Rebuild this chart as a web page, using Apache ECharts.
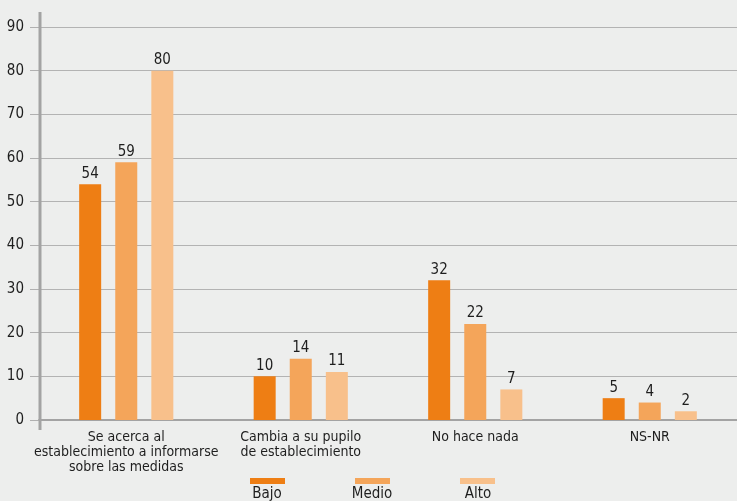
<!DOCTYPE html>
<html>
<head>
<meta charset="utf-8">
<script src="https://cdn.jsdelivr.net/npm/echarts@6/dist/echarts.min.js"></script>
<style>
html,body{margin:0;padding:0;background:#edeeed;}
#main{width:737px;height:501px;}
</style>
</head>
<body>
<div id="main"></div>
<script>
var categories = ['Se acerca al\nestablecimiento a informarse\nsobre las medidas', 'Cambia a su pupilo\nde establecimiento', 'No hace nada', 'NS-NR'];
var seriesNames = ['Bajo', 'Medio', 'Alto'];
var bajo = [54, 10, 32, 5];
var medio = [59, 14, 22, 4];
var alto = [80, 11, 7, 2];
var yTicks = [0, 10, 20, 30, 40, 50, 60, 70, 80, 90];

var FONT = '"Liberation Sans Narrow", "DejaVu Sans Condensed", "Roboto", sans-serif';
var colors = ['#ee7e14', '#f4a55a', '#f8c08b'];
var dataSets = [bajo, medio, alto];

var chart = echarts.init(document.getElementById('main'));
var option = {
  backgroundColor: '#edeeed',
  animation: false,
  grid: { left: 39, right: 0, top: 27, bottom: 81, containLabel: false },
  legend: {
    data: seriesNames,
    left: 245, top: 473,
    icon: 'rect', itemWidth: 35, itemHeight: 6, itemGap: 70,
    formatter: function () { return ''; },
    textStyle: { fontSize: 1 }
  },
  xAxis: {
    type: 'category',
    data: categories,
    axisLine: { lineStyle: { color: '#a3a3a3', width: 2 } },
    axisTick: { show: false },
    axisLabel: { color: '#1e1e1e', fontSize: 14, fontFamily: FONT, lineHeight: 15, margin: 10, interval: 0 }
  },
  yAxis: {
    type: 'value',
    min: yTicks[0], max: yTicks[yTicks.length - 1], interval: 10,
    axisLine: { show: false },
    axisTick: { show: true, length: 9, lineStyle: { color: '#b0b0b0' } },
    axisLabel: { color: '#1e1e1e', fontSize: 15, fontFamily: FONT, margin: 15 },
    splitLine: { lineStyle: { color: '#b3b3b3', width: 1 } }
  },
  series: seriesNames.map(function (n, i) {
    return {
      name: n, type: 'bar', data: dataSets[i],
      barWidth: 22, barGap: '64%',
      itemStyle: { color: colors[i] },
      label: { show: true, position: 'top', distance: 3, color: '#1e1e1e', fontSize: 15, fontFamily: FONT }
    };
  })
};
chart.setOption(option);

var gridTop = chart.convertToPixel({ yAxisIndex: 0 }, yTicks[yTicks.length - 1]);
var yBase = chart.convertToPixel({ yAxisIndex: 0 }, 0);
var gridLeft = 39;
var legendCenters = [267, 372, 478];
chart.setOption({
  graphic: [
    { type: 'line', shape: { x1: gridLeft + 1, y1: gridTop - 15, x2: gridLeft + 1, y2: yBase + 10 }, style: { stroke: '#a3a3a3', lineWidth: 3 }, z: 10 }
  ].concat(seriesNames.map(function (n, i) {
    return { type: 'text', x: legendCenters[i], y: 487, style: { text: n, fill: '#1e1e1e', font: '15px ' + FONT, textAlign: 'center', textVerticalAlign: 'top' } };
  }))
});
</script>
</body>
</html>
